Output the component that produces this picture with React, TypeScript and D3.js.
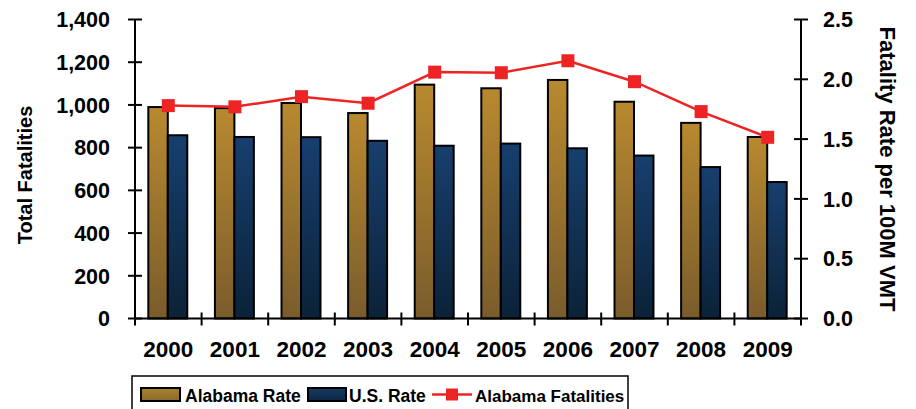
import * as d3 from 'd3';

const years = ['2000', '2001', '2002', '2003', '2004', '2005', '2006', '2007', '2008', '2009'];
const alabamaBars = [990, 985, 1009, 962, 1095, 1078, 1117, 1015, 916, 850];
const usBars = [858, 850, 849, 832, 809, 819, 797, 763, 709, 639];
const alabamaFatalities = [1.78, 1.77, 1.855, 1.80, 2.06, 2.055, 2.155, 1.98, 1.73, 1.515];
const leftTicks = [0, 200, 400, 600, 800, 1000, 1200, 1400];
const rightTicks = [0, 0.5, 1.0, 1.5, 2.0, 2.5];

const W = 916;
const H = 409;
const font = '"Liberation Sans", Arial, sans-serif';

const App = () => {
  // plot area
  const left = 135;
  const right = 801;
  const top = 19.5;
  const bottom = 318.5;

  const x = d3.scaleBand<string>().domain(years).range([left, right]).padding(0);
  const inner = d3
    .scaleBand<string>()
    .domain(['al', 'us'])
    .range([x.bandwidth() * 0.2, x.bandwidth() * 0.785])
    .padding(0);
  const yL = d3.scaleLinear().domain([0, 1400]).range([bottom, top]);
  const yR = d3.scaleLinear().domain([0, 2.5]).range([bottom, top]);

  const line = d3
    .line<number>()
    .x((_, i) => (x(years[i]) as number) + x.bandwidth() / 2)
    .y((d) => yR(d));

  const fmt = d3.format(',');
  const boundaries = years.map((y) => x(y) as number).concat([right]);

  return (
    <svg
      width={W}
      height={H}
      style={{ position: 'absolute', left: 0, top: 0, background: '#fff' }}
      fontFamily={font}
      fontWeight="bold"
    >
      <defs>
        <linearGradient id="gold" x1="0" y1="0" x2="0" y2="1">
          <stop offset="0%" stopColor="#b8892f" />
          <stop offset="100%" stopColor="#7a5c2c" />
        </linearGradient>
        <linearGradient id="blue" x1="0" y1="0" x2="0" y2="1">
          <stop offset="0%" stopColor="#173f6e" />
          <stop offset="100%" stopColor="#0b2238" />
        </linearGradient>
        <linearGradient id="goldL" x1="0" y1="0" x2="0" y2="1">
          <stop offset="0%" stopColor="#a98230" />
          <stop offset="100%" stopColor="#8a6a2c" />
        </linearGradient>
        <linearGradient id="blueL" x1="0" y1="0" x2="0" y2="1">
          <stop offset="0%" stopColor="#173a63" />
          <stop offset="100%" stopColor="#0e2744" />
        </linearGradient>
      </defs>

      {/* bars */}
      {years.map((yr, i) => {
        const bx = x(yr) as number;
        return (
          <g key={yr}>
            <rect
              x={bx + (inner('al') as number)}
              y={yL(alabamaBars[i])}
              width={inner.bandwidth()}
              height={bottom - yL(alabamaBars[i])}
              fill="url(#gold)"
              stroke="#000"
              strokeWidth={2}
            />
            <rect
              x={bx + (inner('us') as number)}
              y={yL(usBars[i])}
              width={inner.bandwidth()}
              height={bottom - yL(usBars[i])}
              fill="url(#blue)"
              stroke="#000"
              strokeWidth={2}
            />
          </g>
        );
      })}

      {/* left axis */}
      <line x1={left} x2={left} y1={top} y2={bottom} stroke="#000" strokeWidth={2} />
      {leftTicks.map((t) => (
        <g key={t}>
          <line x1={left - 7} x2={left + 7} y1={yL(t)} y2={yL(t)} stroke="#000" strokeWidth={2} />
          <text x={110} y={yL(t)} dy="0.36em" textAnchor="end" fontSize={21.5}>
            {fmt(t)}
          </text>
        </g>
      ))}

      {/* right axis */}
      <line x1={right} x2={right} y1={top} y2={bottom} stroke="#000" strokeWidth={2} />
      {rightTicks.map((t) => (
        <g key={t}>
          <line x1={right - 7} x2={right + 7} y1={yR(t)} y2={yR(t)} stroke="#000" strokeWidth={2} />
          <text x={823} y={yR(t)} dy="0.36em" textAnchor="start" fontSize={21.5}>
            {t.toFixed(1)}
          </text>
        </g>
      ))}

      {/* x axis */}
      <line x1={left} x2={right} y1={bottom} y2={bottom} stroke="#000" strokeWidth={2} />
      {boundaries.map((b, i) => (
        <line key={i} x1={b} x2={b} y1={bottom - 6} y2={bottom + 7} stroke="#000" strokeWidth={2} />
      ))}
      {years.map((yr) => (
        <text key={yr} x={(x(yr) as number) + x.bandwidth() / 2} y={357} textAnchor="middle" fontSize={22.5}>
          {yr}
        </text>
      ))}

      {/* line series */}
      <path d={line(alabamaFatalities) as string} fill="none" stroke="#ee2424" strokeWidth={2.5} />
      {alabamaFatalities.map((v, i) => (
        <rect
          key={i}
          x={(x(years[i]) as number) + x.bandwidth() / 2 - 6.5}
          y={yR(v) - 6.5}
          width={13}
          height={13}
          fill="#ee2424"
        />
      ))}

      {/* axis titles */}
      <text transform="translate(32,175) rotate(-90)" textAnchor="middle" fontSize={20}>
        Total Fatalities
      </text>
      <text transform="translate(880,169) rotate(90)" textAnchor="middle" fontSize={22}>
        Fatality Rate per 100M VMT
      </text>

      {/* legend */}
      <rect x={132} y={376} width={496} height={45} fill="#fff" stroke="#000" strokeWidth={1.5} />
      <rect x={141} y={388} width={39} height={13} fill="url(#goldL)" stroke="#000" strokeWidth={2} />
      <text x={185} y={402} fontSize={17.5}>Alabama Rate</text>
      <rect x={308} y={388} width={38} height={13} fill="url(#blueL)" stroke="#000" strokeWidth={2} />
      <text x={349} y={402} fontSize={17.5}>U.S. Rate</text>
      <line x1={432} x2={472} y1={394.5} y2={394.5} stroke="#ee2424" strokeWidth={2.5} />
      <rect x={446} y={388.5} width={12} height={12} fill="#ee2424" />
      <text x={475} y={402} fontSize={17}>Alabama Fatalities</text>
    </svg>
  );
};

export default App;
